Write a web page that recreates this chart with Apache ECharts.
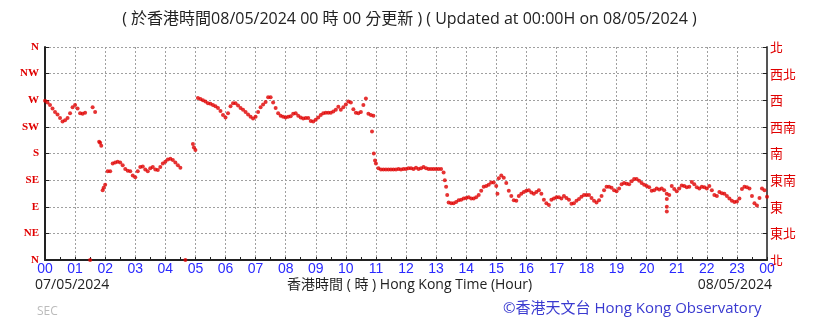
<!DOCTYPE html>
<html>
<head>
<meta charset="utf-8">
<script src="https://cdn.jsdelivr.net/npm/echarts@6/dist/echarts.min.js"></script>
<style>
html,body{margin:0;padding:0;background:#fff;}
#c{width:819px;height:323px;}
</style>
</head>
<body>
<div id="c"></div>
<script>
// Wind direction (degrees) every 5 minutes, one row per hour (00:00 .. 24:00)
const dirH00 = [269,266,262,256,250,246,240,234,236,240,248,258];
const dirH01 = [262,256,248,247,249,null,0,258,250,null,198,118];
const dirH02 = [127,150,150,163,165,166,165,160,154,151,150,143];
const dirH03 = [140,150,157,158,153,150,155,157,153,152,157,163];
const dirH04 = [166,170,171,169,165,160,156,null,0,null,null,196];
const dirH05 = [186,274,272,270,268,265,264,262,260,257,252,245];
const dirH06 = [241,248,260,265,265,261,257,254,250,246,242,239];
const dirH07 = [242,250,258,263,267,275,275,266,257,248,244,242];
const dirH08 = [241,242,243,247,248,244,241,239,240,240,235,234];
const dirH09 = [237,241,245,248,249,249,249,251,254,259,254,258];
const dirH10 = [263,268,266,255,249,248,250,262,273,247,245,244];
const dirH11 = [163,155,153,153,153,153,153,153,153,154,153,154];
const dirH12 = [154,155,155,154,156,154,155,157,155,154,154,154];
const dirH13 = [154,154,154,148,124,97,96,96,98,101,102,104];
const dirH14 = [105,106,104,104,106,110,117,124,125,127,131,131];
const dirH15 = [125,138,143,139,130,117,108,101,100,108,112,115];
const dirH16 = [117,118,114,112,115,118,112,102,96,93,102,104];
const dirH17 = [106,106,104,108,105,102,95,96,100,103,107,110];
const dirH18 = [110,110,105,100,97,101,108,118,124,124,122,118];
const dirH19 = [116,121,128,130,129,128,133,137,137,134,130,127];
const dirH20 = [125,123,117,118,121,119,121,118,112,110,125,120];
const dirH21 = [116,121,126,125,123,124,132,128,123,121,124,123];
const dirH22 = [121,125,118,110,108,115,113,112,108,104,100,98];
const dirH23 = [99,104,120,124,123,121,108,96,92,105,121,118];
const dirH24 = [107];
// Extra isolated readings (time in hours, direction in degrees)
const extraTimes = [1.80,1.87,1.95,4.95,10.87,10.93,10.97,13.29,13.37,15.04,20.67,20.67,20.67];
const extraDirs  = [200,193,122,190,217,180,168,135,110,112,103,90,82];
// Tick labels
const hourLabels = ['00','01','02','03','04','05','06','07','08','09','10','11','12','13','14','15','16','17','18','19','20','21','22','23','00'];
const dirLabelsEn = ['N','NE','E','SE','S','SW','W','NW','N'];
const dirLabelsZh = ['北','東北','東','東南','南','西南','西','西北','北'];

const allDirs = [].concat(dirH00,dirH01,dirH02,dirH03,dirH04,dirH05,dirH06,dirH07,dirH08,dirH09,dirH10,dirH11,dirH12,dirH13,dirH14,dirH15,dirH16,dirH17,dirH18,dirH19,dirH20,dirH21,dirH22,dirH23,dirH24);
const pts = [];
allDirs.forEach((v,i)=>{ if(v!==null) pts.push([i/12, v]); });
extraTimes.forEach((t,i)=>pts.push([t, extraDirs[i]]));

const chart = echarts.init(document.getElementById('c'), null, {renderer:'canvas'});
const red = '#e00000';
const gridLine = {show:true, lineStyle:{color:'#a0a0a0', type:[2,2], width:1}};
chart.setOption({
  animation:false,
  backgroundColor:'#ffffff',
  grid:{left:45, right:52, top:47, bottom:63, containLabel:false},
  xAxis:{
    type:'value', min:0, max:24, interval:1,
    axisLine:{show:true, onZero:false, lineStyle:{color:'#222', width:2}},
    axisTick:{show:true, inside:true, length:3, lineStyle:{color:'#222'}},
    minorTick:{show:true, splitNumber:2, length:3, lineStyle:{color:'#222'}},
    splitLine:gridLine,
    axisLabel:{color:'#2a2aff', fontSize:14, fontFamily:'Liberation Sans, Arial', margin:2,
      formatter:(v)=>hourLabels[v]}
  },
  yAxis:[{
    type:'value', min:0, max:360, interval:45, position:'left',
    axisLine:{show:true, lineStyle:{color:'#222', width:2}},
    axisTick:{show:true, inside:true, length:4, lineStyle:{color:'#222'}},
    splitLine:gridLine,
    axisLabel:{color:red, fontSize:11, fontWeight:'bold', fontFamily:'Liberation Serif', margin:6,
      formatter:(v)=>dirLabelsEn[v/45]}
  },{
    type:'value', min:0, max:360, interval:45, position:'right',
    axisLine:{show:true, lineStyle:{color:'#555', width:2}},
    axisTick:{show:true, inside:true, length:4, lineStyle:{color:'#222'}},
    splitLine:{show:false},
    axisLabel:{color:red, fontSize:13, fontFamily:'Noto Sans CJK TC', margin:3,
      formatter:(v)=>dirLabelsZh[v/45]}
  }],
  series:[{
    type:'scatter', data:pts, symbol:'circle', symbolSize:4,
    itemStyle:{color:'#e00000'}, silent:true
  }],
  graphic:[
    {type:'text', left:'center', top:11, style:{text:'( 於香港時間08/05/2024 00 時 00 分更新 ) ( Updated at 00:00H on 08/05/2024 )', font:'16px "Open Sans", "Noto Sans CJK TC"', fill:'#222'}},
    {type:'text', left:35, top:278, style:{text:'07/05/2024', font:'14px "Open Sans"', fill:'#222'}},
    {type:'text', left:287, top:278, style:{text:'香港時間 ( 時 ) Hong Kong Time (Hour)', font:'14px "Open Sans", "Noto Sans CJK TC"', fill:'#222'}},
    {type:'text', right:47, top:278, style:{text:'08/05/2024', font:'14px "Open Sans"', fill:'#222'}},
    {type:'text', left:37, top:306, style:{text:'SEC', font:'12px "Open Sans"', fill:'#bbbbbb'}},
    {type:'text', left:503, top:301, style:{text:'©香港天文台 Hong Kong Observatory', font:'15px "Open Sans", "Noto Sans CJK TC"', fill:'#3a3ad0'}}
  ]
});
</script>
</body>
</html>
